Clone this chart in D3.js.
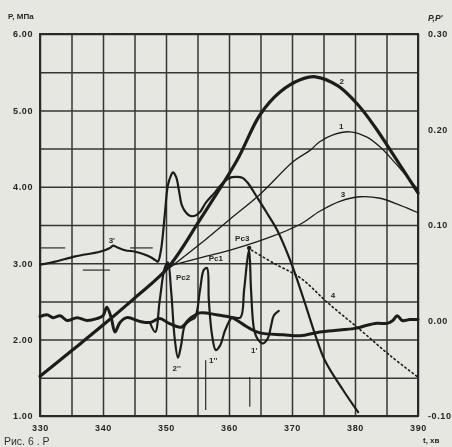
<!DOCTYPE html>
<html>
<head>
<meta charset="utf-8">
<script src="https://d3js.org/d3.v7.min.js"></script>
<style>
  body { margin: 0; background: #e7e7e2; }
  svg { display: block; }
  .lbl { font-family: "Liberation Sans", Arial, sans-serif; font-weight: bold; fill: #262626; }
  .tick text { font-family: "Liberation Sans", Arial, sans-serif; font-size: 9px; font-weight: bold; fill: #262626; letter-spacing: 0.6px; }
</style>
</head>
<body>
<div class="chart"></div>
<script>
// chart size = reference picture
var svgWidth = 452;
var svgHeight = 447;

var margin = { top: 34, right: 34, bottom: 31, left: 40 };

var width = svgWidth - margin.left - margin.right;
var height = svgHeight - margin.top - margin.bottom;

// tick values
var ticksX = [330, 340, 350, 360, 370, 380, 390];
var ticksLeft = [1, 2, 3, 4, 5, 6];
var ticksRight = [-0.1, 0, 0.1, 0.2, 0.3];

// curves on left axis  [t, P]
var curve2 = [[330, 1.52], [335.1, 1.86], [340, 2.19], [345.1, 2.55], [350.3, 2.94], [355.4, 3.57],
  [361.3, 4.35], [364.9, 4.94], [368.1, 5.24], [371.3, 5.40], [373.7, 5.44], [377.3, 5.32],
  [380.5, 5.07], [383.2, 4.78], [385.6, 4.48], [387.9, 4.19], [390, 3.92]];

var curve1 = [[350.6, 2.94], [355.4, 3.25], [360.2, 3.58], [364.9, 3.90], [370.2, 4.33], [372.9, 4.48],
  [374.4, 4.59], [376.5, 4.68], [379.2, 4.72], [381.9, 4.65], [384.0, 4.52], [386.4, 4.31],
  [388.7, 4.09], [390, 3.96]];

var curve3 = [[350.3, 2.96], [355.4, 3.07], [360.2, 3.17], [366.5, 3.34], [371.3, 3.51], [374.4, 3.68],
  [377.6, 3.81], [380.8, 3.87], [384.0, 3.85], [387.1, 3.76], [390, 3.66]];

var curve3s = [[330, 2.98], [332.4, 3.02], [335.6, 3.09], [339.5, 3.15], [341.1, 3.20], [341.6, 3.23],
  [342.2, 3.21], [343.5, 3.17], [345.1, 3.15], [346.7, 3.11], [347.5, 3.08], [348.3, 3.04],
  [348.7, 3.02], [349.2, 3.17], [349.8, 3.63], [350.3, 4.02], [350.8, 4.15], [351.1, 4.19],
  [351.6, 4.13], [352.1, 3.93], [352.5, 3.76], [353.2, 3.66], [353.8, 3.62], [354.6, 3.62],
  [355.4, 3.67], [356.3, 3.79], [357.8, 3.93], [359.0, 4.05], [360.2, 4.12], [361.1, 4.13],
  [362.1, 4.12], [363.0, 4.05], [364.4, 3.87], [366.0, 3.66], [367.6, 3.44], [369.7, 3.04],
  [371.0, 2.74], [372.4, 2.39], [373.7, 2.06], [375.2, 1.73], [378.1, 1.34], [380.5, 1.05]];

var curve4 = [[363.6, 3.17], [367.3, 2.99], [371.3, 2.81], [375.7, 2.48], [380.8, 2.13], [385.6, 1.79], [389.8, 1.52]];

// curves on right axis  [t, P']
var pPrime = [[330, 0.004], [331.1, 0.006], [332.1, 0.003], [333.2, 0.005], [334.3, 0.000], [335.9, 0.003],
  [337.5, 0.000], [339.0, 0.002], [340.0, 0.005], [340.6, 0.014], [341.3, 0.003], [341.9, -0.012],
  [342.7, -0.002], [343.8, 0.003], [345.9, -0.001], [347.5, -0.002], [349.0, 0.002], [350.5, -0.003],
  [352.4, -0.007], [353.8, 0.002], [355.4, 0.008], [358.0, 0.006], [360.5, 0.003], [361.3, 0.000],
  [363.2, -0.008], [364.9, -0.013], [368.6, -0.015], [371.3, -0.016], [374.4, -0.012], [377.6, -0.010],
  [380.3, -0.008], [381.9, -0.005], [383.5, -0.003], [385.1, -0.003], [386.0, 0.000], [386.7, 0.005],
  [387.5, 0.000], [388.7, 0.001], [390, 0.001]];

var pOsc = [[347.5, -0.003], [348.3, -0.012], [349.0, 0.021], [349.8, 0.055], [350.3, 0.061], [350.8, 0.032],
  [351.4, -0.020], [351.9, -0.039], [352.4, -0.026], [353.0, -0.005], [353.8, 0.000], [354.6, 0.003],
  [355.4, 0.032], [356.0, 0.053], [356.5, 0.055], [356.8, 0.021], [357.3, -0.015], [357.9, -0.031],
  [358.6, -0.026], [359.4, -0.010], [360.5, 0.003], [361.8, 0.003], [362.4, 0.032], [362.9, 0.063],
  [363.2, 0.074], [363.5, 0.032], [364.0, -0.010], [364.6, -0.020], [365.4, -0.024], [366.2, -0.018],
  [366.7, -0.005], [367.1, 0.005], [367.9, 0.010]];

// short level marks [t0, t1, P] and time marks [t, P0, P1]
var levelMarks = [[330, 334, 3.20], [336.8, 341.1, 2.91], [344.3, 347.9, 3.20]];
var timeMarks = [[356.3, 1.73, 1.08], [363.3, 1.51, 1.12]];

// text labels [text, t, P]
var curveLabels = [["2", 377.9, 5.39], ["1", 377.8, 4.80], ["3", 378.1, 3.91], ["4", 376.5, 2.58],
  ["3'", 341.4, 3.30], ["Pc2", 352.7, 2.82], ["Pc1", 357.9, 3.07], ["Pc3", 362.1, 3.33],
  ["2''", 351.7, 1.63], ["1''", 357.5, 1.73], ["1'", 364.0, 1.86]];
var pcDots = [[363.2, 3.20], [350.3, 2.98]];

var svg = d3.select(".chart")
  .append("svg")
  .attr("width", svgWidth)
  .attr("height", svgHeight);

// slight softening like the scan
svg.append("defs").append("filter").attr("id", "scan")
  .append("feGaussianBlur").attr("stdDeviation", 0.45);

var chartGroup = svg.append("g")
  .attr("transform", `translate(${margin.left}, ${margin.top})`)
  .attr("filter", "url(#scan)");

var x = d3.scaleLinear().domain([330, 390]).range([0, width]);
var yLeft = d3.scaleLinear().domain([1, 6]).range([height, 0]);
var yRight = d3.scaleLinear().domain([-0.1, 0.3]).range([height, 0]);

// grid
chartGroup.append("g")
  .attr("transform", `translate(0, ${height})`)
  .call(d3.axisBottom(x).tickValues(d3.range(330, 391, 5)).tickSize(-height).tickFormat(""))
  .call(g => g.select(".domain").remove())
  .selectAll("line").attr("stroke", "#363636").attr("stroke-width", 1.5);

chartGroup.append("g")
  .call(d3.axisLeft(yLeft).tickValues(d3.range(1, 6.01, 0.5)).tickSize(-width).tickFormat(""))
  .call(g => g.select(".domain").remove())
  .selectAll("line").attr("stroke", "#363636").attr("stroke-width", 1.5);

chartGroup.append("rect")
  .attr("width", width).attr("height", height)
  .attr("fill", "none").attr("stroke", "#2a2a2a").attr("stroke-width", 2);

// axes labels
var fmt = d => d.toFixed(2);
chartGroup.append("g")
  .call(d3.axisLeft(yLeft).tickValues(ticksLeft).tickSize(0).tickPadding(7).tickFormat(fmt))
  .call(g => g.select(".domain").remove());

chartGroup.append("g")
  .attr("transform", `translate(${width}, 0)`)
  .call(d3.axisRight(yRight).tickValues(ticksRight).tickSize(0).tickPadding(10).tickFormat(fmt))
  .call(g => g.select(".domain").remove());

chartGroup.append("g")
  .attr("transform", `translate(0, ${height})`)
  .call(d3.axisBottom(x).tickValues(ticksX).tickSize(0).tickPadding(9).tickFormat(d3.format("d")))
  .call(g => g.select(".domain").remove());

var lineL = d3.line().x(d => x(d[0])).y(d => yLeft(d[1])).curve(d3.curveCatmullRom.alpha(0.5));
var lineR = d3.line().x(d => x(d[0])).y(d => yRight(d[1])).curve(d3.curveCatmullRom.alpha(0.5));

function drawCurve(data, line, w, dash) {
  chartGroup.append("path")
    .datum(data)
    .attr("d", line)
    .attr("fill", "none")
    .attr("stroke", "#1c1c1c")
    .attr("stroke-width", w)
    .attr("stroke-linecap", "round")
    .attr("stroke-dasharray", dash || null);
}

drawCurve(curve3, lineL, 1.3);
drawCurve(curve1, lineL, 1.3);
drawCurve(curve4, lineL, 1.6, "1.5,3");
drawCurve(curve3s, lineL, 2.2);
drawCurve(pOsc, lineR, 2.2);
drawCurve(pPrime, lineR, 3);
drawCurve(curve2, lineL, 3.2);

// level / time marks
chartGroup.selectAll("line.lvl")
  .data(levelMarks).enter().append("line")
  .attr("x1", d => x(d[0])).attr("x2", d => x(d[1]))
  .attr("y1", d => yLeft(d[2])).attr("y2", d => yLeft(d[2]))
  .attr("stroke", "#2a2a2a").attr("stroke-width", 1.2);

chartGroup.selectAll("line.tm")
  .data(timeMarks).enter().append("line")
  .attr("x1", d => x(d[0])).attr("x2", d => x(d[0]))
  .attr("y1", d => yLeft(d[1])).attr("y2", d => yLeft(d[2]))
  .attr("stroke", "#2a2a2a").attr("stroke-width", 1.2);

chartGroup.selectAll("circle.pc")
  .data(pcDots).enter().append("circle")
  .attr("cx", d => x(d[0])).attr("cy", d => yLeft(d[1]))
  .attr("r", 2.2).attr("fill", "#1c1c1c");

chartGroup.selectAll("text.cl")
  .data(curveLabels).enter().append("text")
  .attr("class", "lbl")
  .attr("x", d => x(d[1])).attr("y", d => yLeft(d[2]) + 3)
  .attr("text-anchor", "middle")
  .style("font-size", "8px")
  .text(d => d[0]);

// axis titles
svg.append("text").attr("class", "lbl").attr("x", 8).attr("y", 19)
  .style("font-size", "8px").text("P, МПа");
svg.append("text").attr("class", "lbl").attr("x", 428).attr("y", 21)
  .style("font-size", "8.5px").style("font-style", "italic").text("P,P'");
svg.append("text").attr("class", "lbl").attr("x", 423).attr("y", 443)
  .style("font-size", "8px").text("t, хв");

// caption at the bottom of the page
svg.append("text").attr("class", "lbl").attr("x", 4).attr("y", 444.5)
  .style("font-size", "10.5px").style("font-weight", "normal").style("fill", "#333")
  .text("Рис. 6 .  Р");
</script>
</body>
</html>
